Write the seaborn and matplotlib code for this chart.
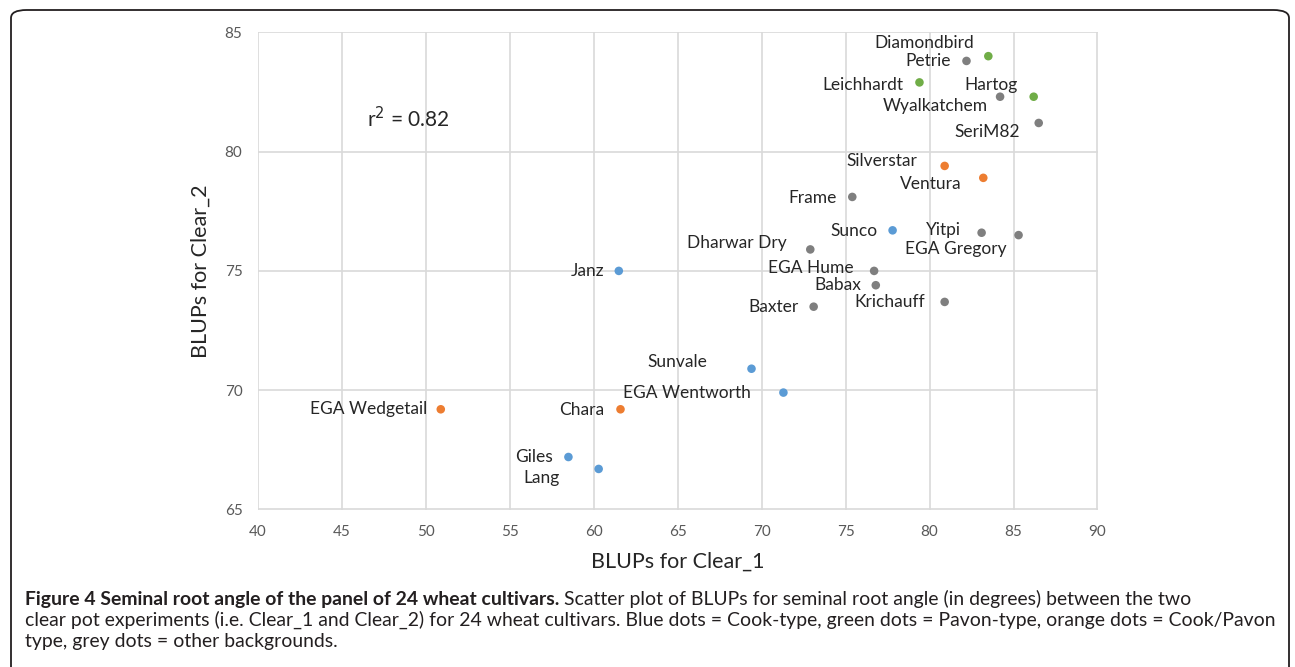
import numpy as np
import pandas as pd
import seaborn as sns
import matplotlib.pyplot as plt
from matplotlib.patches import FancyBboxPatch

# data
cultivars = ["Diamondbird", "Petrie", "Leichhardt", "Hartog", "Wyalkatchem", "SeriM82",
             "Silverstar", "Ventura", "Frame", "Sunco", "Yitpi", "EGA Gregory",
             "Dharwar Dry", "EGA Hume", "Babax", "Krichauff", "Baxter", "Janz",
             "Sunvale", "EGA Wentworth", "Chara", "EGA Wedgetail", "Giles", "Lang"]
clear_1 = [83.5, 82.2, 79.4, 86.2, 84.2, 86.5,
           80.9, 83.2, 75.4, 77.8, 83.1, 85.3,
           72.9, 76.7, 76.8, 80.9, 73.1, 61.5,
           69.4, 71.3, 61.6, 50.9, 58.5, 60.3]
clear_2 = [84.0, 83.8, 82.9, 82.3, 82.3, 81.2,
           79.4, 78.9, 78.1, 76.7, 76.6, 76.5,
           75.9, 75.0, 74.4, 73.7, 73.5, 75.0,
           70.9, 69.9, 69.2, 69.2, 67.2, 66.7]
background = ["Pavon", "other", "Pavon", "Pavon", "other", "other",
              "Cook/Pavon", "Cook/Pavon", "other", "Cook", "other", "other",
              "other", "other", "other", "other", "other", "Cook",
              "Cook", "Cook", "Cook/Pavon", "Cook/Pavon", "Cook", "Cook"]

caption_bold = "Figure 4 Seminal root angle of the panel of 24 wheat cultivars."
caption_lines = ["Scatter plot of BLUPs for seminal root angle (in degrees) between the two",
                 "clear pot experiments (i.e. Clear_1 and Clear_2) for 24 wheat cultivars. Blue dots = Cook-type, "
                 "green dots = Pavon-type, orange dots = Cook/Pavon",
                 "type, grey dots = other backgrounds."]

df = pd.DataFrame({"cultivar": cultivars, "clear_1": clear_1,
                   "clear_2": clear_2, "background": background})

palette = {"Cook": "#5b9bd5", "Pavon": "#70ad47", "Cook/Pavon": "#ed7d31", "other": "#7f7f7f"}

# label offsets in pixels (right edge of text relative to dot)
label_off = {"Diamondbird": (-14, 13), "Petrie": (-16, 0), "Leichhardt": (-16, -3),
             "Hartog": (-16, 12), "Wyalkatchem": (-12, -9), "SeriM82": (-19, -9),
             "Silverstar": (-27, 5), "Ventura": (-22, -6), "Frame": (-16, -1),
             "Sunco": (-15, -1), "Yitpi": (-21, 3), "EGA Gregory": (-12, -14),
             "Dharwar Dry": (-24, 6), "EGA Hume": (-20, 3), "Babax": (-15, 0),
             "Krichauff": (-20, 0), "Baxter": (-15, 0), "Janz": (-14, 0),
             "Sunvale": (-44, 7), "EGA Wentworth": (-33, 0), "Chara": (-16, -1),
             "EGA Wedgetail": (-14, 0), "Giles": (-16, 0), "Lang": (-39, -9)}

sns.set_style("white")
plt.rcParams["font.family"] = ["Lato", "DejaVu Sans"]

W, H = 1295, 667
fig = plt.figure(figsize=(W / 100, H / 100), dpi=100)
ax = fig.add_axes([257.7 / W, 1 - 509.5 / H, (1097.5 - 257.7) / W, (509.5 - 32.3) / H])

sns.scatterplot(data=df, x="clear_1", y="clear_2", hue="background", palette=palette,
                s=38, edgecolor="none", legend=False, ax=ax, zorder=3)

for name, x, y in zip(cultivars, clear_1, clear_2):
    dx, dy = label_off[name]
    ax.annotate(name, (x, y), xytext=(dx, dy), textcoords="offset pixels",
                ha="right", va="center", fontsize=12.5, color="#262626", zorder=4)

ax.text(46.5, 81.4, "r$^2$ = 0.82", fontsize=15, color="#262626", ha="left", va="center")

ax.set_xlim(40, 90)
ax.set_ylim(65, 85)
ax.set_xticks(np.arange(40, 91, 5))
ax.set_yticks(np.arange(65, 86, 5))
ax.grid(True, color="#d9d9d9", linewidth=1.2)
ax.set_axisbelow(True)
for s in ax.spines.values():
    s.set_visible(False)
ax.tick_params(axis="x", length=0, labelsize=11, labelcolor="#595959", pad=11)
ax.tick_params(axis="y", length=0, labelsize=11, labelcolor="#595959", pad=11)
ax.set_xlabel("BLUPs for Clear_1", fontsize=15.5, color="#262626", labelpad=9)
ax.set_ylabel("BLUPs for Clear_2", fontsize=15.5, color="#262626", labelpad=10)

# outer frame
frame = FancyBboxPatch((11 / W, -0.05), (1289 - 11) / W, 1 - 10 / H + 0.05,
                       boxstyle="round,pad=0,rounding_size=0.012", transform=fig.transFigure,
                       fill=False, edgecolor="#231f20", linewidth=1.3, clip_on=False)
fig.patches.append(frame)

# caption, font size fitted so the long line spans the reference width
renderer = fig.canvas.get_renderer()
probe = fig.text(0, 0, caption_lines[1], fontsize=12)
cap_size = 12 * (1273 - 25) / probe.get_window_extent(renderer=renderer).width
probe.remove()

bold = fig.text(25 / W, 1 - 605 / H, caption_bold, fontsize=cap_size, fontweight="bold",
                color="#231f20", va="baseline")
bb = bold.get_window_extent(renderer=renderer)
fig.text((bb.x1 + 5) / W, 1 - 605 / H, caption_lines[0],
         fontsize=cap_size, color="#231f20", va="baseline")
fig.text(25 / W, 1 - 626 / H, caption_lines[1], fontsize=cap_size, color="#231f20", va="baseline")
fig.text(25 / W, 1 - 647 / H, caption_lines[2], fontsize=cap_size, color="#231f20", va="baseline")

fig.savefig("out.png", dpi=100)
